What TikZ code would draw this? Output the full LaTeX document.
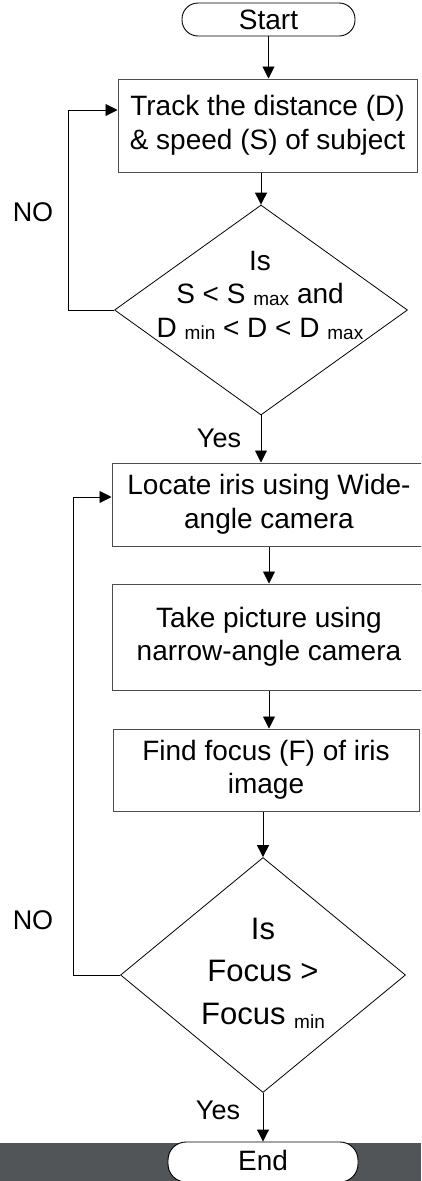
\documentclass[tikz,border=0pt]{standalone}
\usepackage{fontspec}
\setmainfont{Liberation Sans}
\usetikzlibrary{arrows.meta,shapes.geometric}
\definecolor{band}{RGB}{81,85,88}
\newcommand\subt[2][2pt]{\ {\fontsize{19}{19}\selectfont\raisebox{-#1}{#2}}}
\begin{document}
\begin{tikzpicture}[x=1pt,y=-1pt,
  txt/.style={font=\fontsize{28}{33.5}\selectfont},
  bigtxt/.style={font=\fontsize{31}{42.5}\selectfont},
  lbl/.style={font=\fontsize{27}{30}\selectfont, inner sep=0pt},
  term/.style={draw=black, line width=0.9pt, fill=white, rounded corners=16pt, inner sep=0pt, txt},
  procbox/.style={draw=black!70, line width=1pt, inner sep=0pt, align=center, txt},
  dia/.style={draw=black, line width=0.8pt, diamond, inner sep=0pt, aspect=1},
  arr/.style={-{Triangle[length=12pt,width=12pt]}, line width=0.9pt},
  conn/.style={line width=0.9pt}]
\useasboundingbox (0,0) rectangle (421,1181);
\clip (0,0) rectangle (421,1181);
\fill[band] (0,1143) rectangle (421,1181);

\node[term, minimum width=173pt, minimum height=33pt] (start) at (268.5,19.5) {Start};
\node[procbox, minimum width=299pt, minimum height=93pt] (box1) at (267.5,125.5)
  {Track the distance (D)\\ \& speed (S) of subject};
\node[dia, minimum width=293pt, minimum height=210pt] (d1) at (261,310) {};
\node[align=center, inner sep=0pt, txt] (d1t) at (260,295)
  {Is\\ S < S\subt{max} and\\ D\subt{min} < D < D\subt{max}};
\node[procbox, minimum width=314pt, minimum height=83pt] (box2) at (269,504.5)
  {Locate iris using Wide-\\ angle camera};
\node[procbox, minimum width=314pt, minimum height=106pt] (box3) at (269,637)
  {Take picture using\\ narrow-angle camera};
\node[procbox, minimum width=306pt, minimum height=82pt] (box4) at (266,770)
  {Find focus (F) of iris\\ image};
\node[dia, minimum width=285pt, minimum height=235pt] (d2) at (263,975) {};
\node[align=center, inner sep=0pt, bigtxt] (d2t) at (263,973)
  {Is\\ Focus >\\ Focus\subt[4pt]{min}};
\node[term, minimum width=190pt, minimum height=40pt, rounded corners=18pt] (end) at (263,1162) {};
\node[txt, inner sep=0pt] (endt) at (263,1160) {End};

\node[lbl] (no1) at (33,212) {NO};
\node[lbl] (yes1) at (219,438) {Yes};
\node[lbl] (no2) at (33,920) {NO};
\node[lbl] (yes2) at (218,1110) {Yes};

\draw[arr] (start.south) -- (start.south |- box1.north);
\draw[arr] (d1.north |- box1.south) -- (d1.north);
\draw[arr] (d1.south) -- (d1.south |- box2.north);
\draw[arr] (box2.south) -- (box2.south |- box3.north);
\draw[arr] (box3.south) -- (box3.south |- box4.north);
\draw[arr] (d2.north |- box4.south) -- (d2.north);
\draw[arr] (d2.south) -- (d2.south |- end.north);
\draw[arr] (d1.west) -- ++(-46,0) |- ([yshift=15.5pt]box1.west);
\draw[arr] (d2.west) -- ++(-47,0) |- ([yshift=7.5pt]box2.west);
\end{tikzpicture}
\end{document}
